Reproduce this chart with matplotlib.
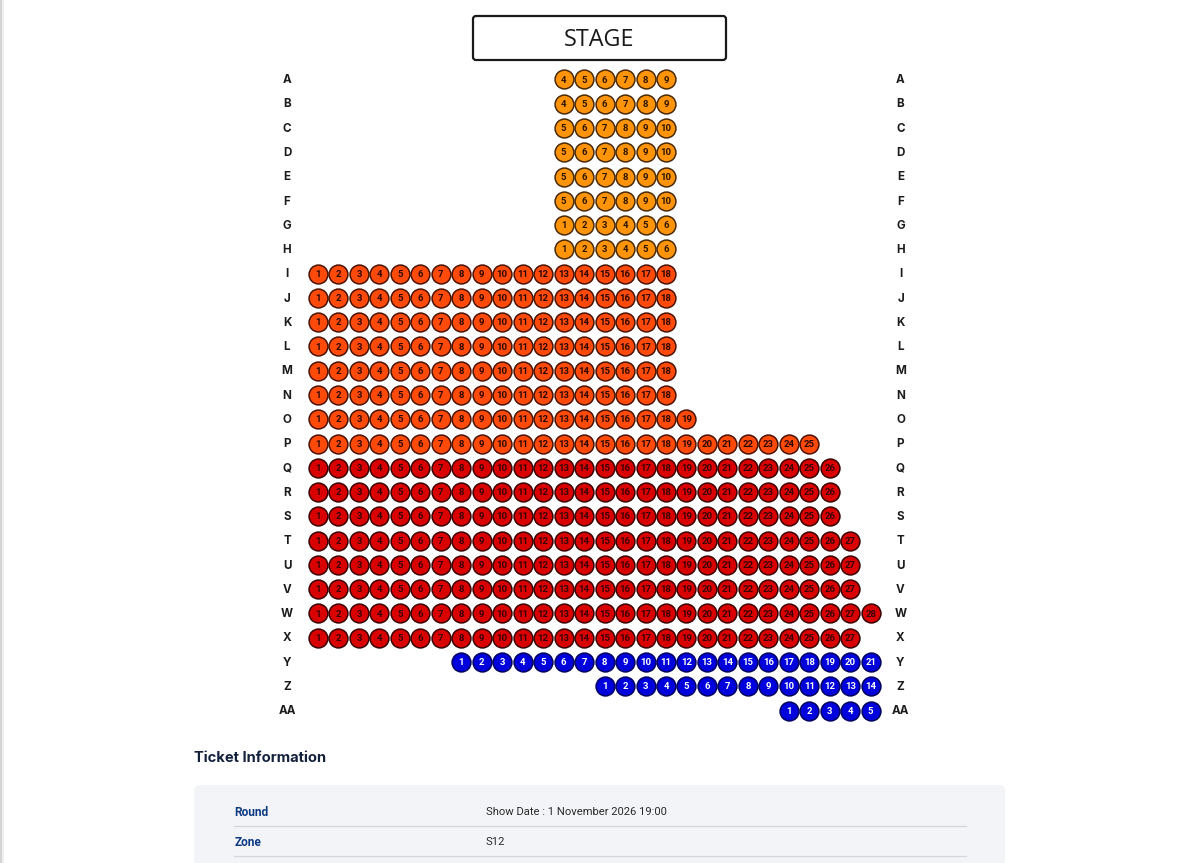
import matplotlib
matplotlib.use('Agg')
import matplotlib.pyplot as plt
from matplotlib.patches import FancyBboxPatch, Rectangle

# seating plan, one entry per row
row_names = ['A', 'B', 'C', 'D', 'E', 'F', 'G', 'H', 'I', 'J', 'K', 'L', 'M', 'N',
             'O', 'P', 'Q', 'R', 'S', 'T', 'U', 'V', 'W', 'X', 'Y', 'Z', 'AA']
first_col = [12, 12, 12, 12, 12, 12, 12, 12, 0, 0, 0, 0, 0, 0,
             0, 0, 0, 0, 0, 0, 0, 0, 0, 0, 7, 14, 23]
first_seat = [4, 4, 5, 5, 5, 5, 1, 1, 1, 1, 1, 1, 1, 1,
              1, 1, 1, 1, 1, 1, 1, 1, 1, 1, 1, 1, 1]
seat_count = [6, 6, 6, 6, 6, 6, 6, 6, 18, 18, 18, 18, 18, 18,
              19, 25, 26, 26, 26, 27, 27, 27, 28, 27, 21, 14, 5]
zones = ['gold'] * 8 + ['orange'] * 8 + ['red'] * 8 + ['blue'] * 3

zone_fill = {'gold': '#FF9408', 'orange': '#FF4A0A', 'red': '#D80000', 'blue': '#0000DC'}
zone_text = {'gold': '#2A1500', 'orange': '#2A0800', 'red': '#3A0000', 'blue': 'white'}
zone_edge = {'gold': '#4A2A00', 'orange': '#4A1200', 'red': '#3A0000', 'blue': '#000060'}

info_labels = ['Round', 'Zone']
info_values = ['Show Date : 1 November 2026 19:00', 'S12']

# pixel layout of the seat grid
x0, dx = 318.0, 20.47
y0, dy = 79.5, 24.27

fig = plt.figure(figsize=(11.99, 8.63), dpi=100)
ax = fig.add_axes([0, 0, 1, 1])
ax.set_xlim(0, 1199)
ax.set_ylim(863, 0)
ax.axis('off')

# page edge on the left
ax.add_patch(Rectangle((0, 0), 2, 863, fc='#D4D4D4', ec='none'))
ax.add_patch(Rectangle((2, 0), 2, 863, fc='#EFEFEF', ec='none'))

# stage
ax.add_patch(FancyBboxPatch((473, 16), 253, 44, boxstyle='round,pad=0,rounding_size=3',
                            fc='white', ec='#1A1A1A', lw=1.6))
ax.text(599.5, 37.5, 'STAGE', ha='center', va='center_baseline', fontsize=16.8, color='#1A1A1A',
        family='Open Sans')

for i, name in enumerate(row_names):
    y = y0 + i * dy
    ax.text(287, y - 0.8, name, ha='center', va='center_baseline', fontsize=8.4, fontweight='bold',
            color='#1C1C1C', family='Inter')
    ax.text(900.5, y - 0.8, name, ha='center', va='center_baseline', fontsize=8.4, fontweight='bold',
            color='#1C1C1C', family='Inter')
    zone = zones[i]
    for k in range(seat_count[i]):
        x = x0 + (first_col[i] + k) * dx
        ax.scatter([x], [y], s=184, color=zone_fill[zone], edgecolors=zone_edge[zone],
                   linewidths=1.1, zorder=2)
        ax.text(x, y - 0.4, str(first_seat[i] + k), ha='center', va='center_baseline', fontsize=6.8,
                fontweight='bold', color=zone_text[zone], family='Roboto', zorder=3)

# ticket panel, runs off the bottom of the page
ax.text(194, 756, 'Ticket Information', ha='left', va='center_baseline', fontsize=10.6,
        fontweight='bold', color='#14213D', family='Inter')
ax.add_patch(FancyBboxPatch((194, 785), 811, 100, boxstyle='round,pad=0,rounding_size=6',
                            fc='#F3F4F8', ec='none'))
for i, label in enumerate(info_labels):
    y = 810.5 + i * 30
    ax.text(234.5, y, label, ha='left', va='center_baseline', fontsize=8.6, fontweight='bold',
            color='#0D3A82', family='Roboto')
    ax.text(485.5, y, info_values[i], ha='left', va='center_baseline', fontsize=8.1,
            color='#2B2B2B', family='Roboto')
    ax.plot([234, 966], [y + 15.5, y + 15.5], color='#D3D6DB', lw=1.0)

fig.savefig('out.png', dpi=100)
